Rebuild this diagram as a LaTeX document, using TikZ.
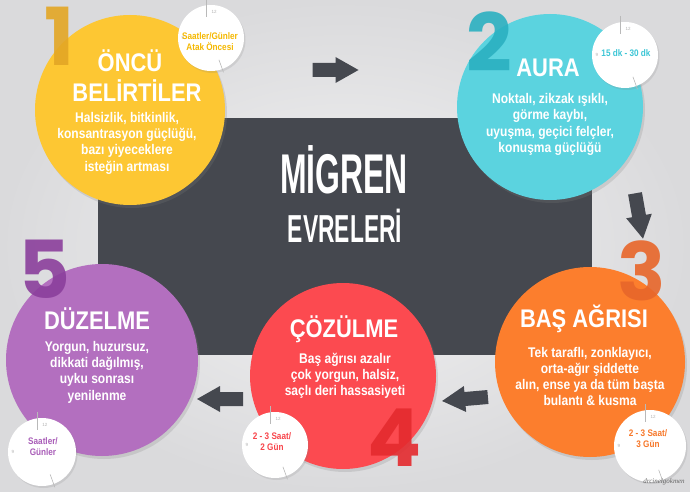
\documentclass[tikz,border=0pt]{standalone}
\usepackage{fontspec}
\setmainfont{Liberation Sans}
\newfontfamily\tfont{Liberation Sans}[FakeStretch=0.86]
\newfontfamily\numfont{Poppins}
\newfontfamily\wmfont{Liberation Serif}
\usetikzlibrary{shadows,calc}
\definecolor{bgin}{HTML}{F3F3F4}
\definecolor{bgout}{HTML}{DADADC}
\definecolor{dark}{HTML}{45484F}
\definecolor{yel}{HTML}{FDC733}
\definecolor{yelnum}{HTML}{E3A625}
\definecolor{yeltxt}{HTML}{F5B800}
\definecolor{cya}{HTML}{5BD3DF}
\definecolor{cyanum}{HTML}{2BB0C1}
\definecolor{cyatxt}{HTML}{3DC6D6}
\definecolor{ora}{HTML}{FC7E2D}
\definecolor{oranum}{HTML}{E8662A}
\definecolor{oratxt}{HTML}{F7782A}
\definecolor{redc}{HTML}{FC4A50}
\definecolor{rednum}{HTML}{E42A2E}
\definecolor{redtxt}{HTML}{F8454B}
\definecolor{pur}{HTML}{B36FBF}
\definecolor{purnum}{HTML}{8B3F9C}
\definecolor{purtxt}{HTML}{A95DB8}
\newcommand\clockmarks[1]{%
  \draw[tickline] ($(#1.north)+(-5,-6)$) -- ($(#1.north)+(-5,12)$);
  \node[ticknum] (#1-twelve) at ($(#1.north)+(3,7)$) {12};
  \node[ticknum] (#1-nine) at ($(#1.west)+(5,0)$) {9};
  \draw[tickline] ($(#1.center)!0.7!(#1.-70)$) -- ($(#1.center)!1.1!(#1.-70)$);
}
\begin{document}
\begin{tikzpicture}[x=1pt,y=-1pt,
  disc/.style={circle, minimum size=#1, inner sep=0pt,
    drop shadow={opacity=0.22, shadow xshift=2pt, shadow yshift=-3pt}},
  badge/.style={circle, fill=white, minimum size=#1, inner sep=0pt,
    drop shadow={opacity=0.18, shadow xshift=1.5pt, shadow yshift=-2pt}},
  ttl/.style={text=white, font=\tfont\bfseries\fontsize{25.5}{27}\selectfont,
    inner sep=0pt, text height=18pt, text depth=0pt},
  bodytxt/.style={text=white, align=center,
    font=\tfont\bfseries\fontsize{14}{16.3}\selectfont, inner sep=0pt},
  btxt/.style={align=center, font=\tfont\bfseries\fontsize{9.5}{11}\selectfont, inner sep=0pt},
  numtxt/.style={font=\numfont\bfseries\fontsize{80}{80}\selectfont, inner sep=0pt,
    text height=56pt, text depth=0pt, opacity=0.9},
  tickline/.style={draw=gray!55, line width=0.6pt},
  ticknum/.style={text=gray!60, font=\fontsize{4.5}{5}\selectfont, inner sep=0pt},
  bigttl/.style={text=white, font=\bfseries, inner sep=0pt, text depth=0pt},
  blockarrow/.pic={\fill[dark] (-23,-7) -- (0,-7) -- (0,-13) -- (23,0) -- (0,13) -- (0,7) -- (-23,7) -- cycle;}
]
\useasboundingbox (0,0) rectangle (690,492);
% background
\shade[inner color=bgin, outer color=bgout] (0,0) rectangle (690,492);
% central panel
\node (panel) [fill=dark, minimum width=494pt, minimum height=237pt, inner sep=0pt,
  anchor=north west] at (98,118) {};
\node (t1) [bigttl, text height=40pt] at (344,173)
  {\scalebox{0.57}[1]{\fontsize{56}{56}\selectfont MİGREN}};
\node (t2) [bigttl, text height=28pt] at (345,228)
  {\scalebox{0.585}[1]{\fontsize{39}{39}\selectfont EVRELERİ}};
% arrows
\pic at (335.5,70) {blockarrow};
\pic[rotate=-80] at (639,216) {blockarrow};
\pic[rotate=185] at (465,399) {blockarrow};
\pic[rotate=180] at (220,399) {blockarrow};
% circles
\node (c1) [disc=190pt, fill=yel] at (130,110) {};
\node (c2) [disc=186pt, fill=cya] at (550,107) {};
\node (c3) [disc=190pt, fill=ora] at (590,362) {};
\node (c4) [disc=186pt, fill=redc] at (343,376) {};
\node (c5) [disc=192pt, fill=pur] at (102,360) {};
% numbers
\node (n1) [numtxt, text=yelnum] at (60,38) {1};
\node (n2) [numtxt, text=cyanum] at (489,44) {2};
\node (n3) [numtxt, text=oranum] at (642,272) {3};
\node (n4) [numtxt, text=rednum] at (395,438) {4};
\node (n5) [numtxt, text=purnum] at (44,270) {5};
% titles
\node (h1a) [ttl] at (130,63) {ÖNCÜ};
\node (h1b) [ttl] at (137,93) {BELİRTİLER};
\node (h2) [ttl] at (548,68) {AURA};
\node (h3) [ttl] at (584,318) {BAŞ AĞRISI};
\node (h4) [ttl] at (344,328) {ÇÖZÜLME};
\node (h5) [ttl] at (97,320) {DÜZELME};
% bodies
\node (d1) [bodytxt] at (127,143) {Halsizlik, bitkinlik,\\konsantrasyon güçlüğü,\\bazı yiyeceklere\\isteğin artması};
\node (d2) [bodytxt] at (550,124.5) {Noktalı, zikzak ışıklı,\\görme kaybı,\\uyuşma, geçici felçler,\\konuşma güçlüğü};
\node (d3) [bodytxt] at (590,376.5) {Tek taraflı, zonklayıcı,\\orta-ağır şiddette\\alın, ense ya da tüm başta\\bulantı \& kusma};
\node (d4) [bodytxt] at (345,376) {Baş ağrısı azalır\\çok yorgun, halsiz,\\saçlı deri hassasiyeti};
\node (d5) [bodytxt] at (97,372) {Yorgun, huzursuz,\\dikkati dağılmış,\\uyku sonrası\\yenilenme};
% badges
\node (b1) [badge=66pt] at (211,38) {};
\node (b2) [badge=66pt] at (625,55) {};
\node (b3) [badge=72pt] at (650,446) {};
\node (b4) [badge=66pt] at (275,445) {};
\node (b5) [badge=68pt] at (42,452) {};
\clockmarks{b1}
\clockmarks{b2}
\clockmarks{b3}
\clockmarks{b4}
\clockmarks{b5}
\node (bt1) [btxt, text=yeltxt] at (210,42) {Saatler/Günler\\Atak Öncesi};
\node (bt2) [btxt, text=cyatxt] at (626,53) {15 dk - 30 dk};
\node (bt3) [btxt, text=oratxt] at (648,439) {2 - 3 Saat/\\3 Gün};
\node (bt4) [btxt, text=redtxt] at (272,442) {2 - 3 Saat/\\2 Gün};
\node (bt5) [btxt, text=purtxt] at (43,447) {Saatler/\\Günler};
% watermark
\node (wm) [text=gray!80!black, font=\wmfont\itshape\fontsize{7}{8}\selectfont, inner sep=0pt]
  at (664,482) {drcinelgokmen};
\end{tikzpicture}
\end{document}
